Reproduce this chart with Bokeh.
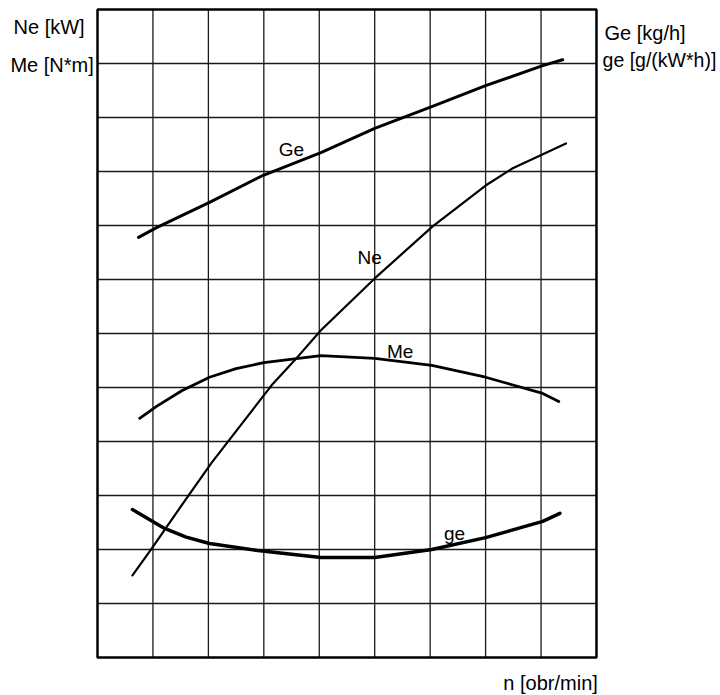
from bokeh.plotting import figure
from bokeh.models import Label, Range1d
from bokeh.embed import file_html
from bokeh.resources import INLINE

# grid positions (in grid units: 9 columns of n, 12 rows)
x_ticks = [1, 2, 3, 4, 5, 6, 7, 8]
y_ticks = [1, 2, 3, 4, 5, 6, 7, 8, 9, 10, 11]
x_border = [0, 9]
y_border = [0, 12]

# curves (x = n in grid units, y in grid units)
ge_big_n = [0.74, 1.065, 2.02, 2.99, 4.03, 5.0, 6.03, 7.0, 8.03, 8.39]
ge_big_v = [7.78, 7.96, 8.43, 8.93, 9.35, 9.80, 10.20, 10.59, 10.96, 11.07]

ne_n = [0.63, 0.98, 1.64, 2.06, 3.14, 3.63, 4.03, 5.0, 6.04, 7.0, 7.49, 8.45]
ne_v = [1.52, 2.02, 3.0, 3.61, 5.04, 5.59, 6.06, 7.02, 7.98, 8.74, 9.06, 9.52]

me_n = [0.76, 1.065, 1.52, 2.02, 2.5, 3.0, 4.03, 5.0, 6.03, 7.0, 8.03, 8.32]
me_v = [4.43, 4.65, 4.94, 5.19, 5.35, 5.46, 5.59, 5.54, 5.41, 5.19, 4.89, 4.74]

ge_small_n = [0.63, 1.21, 1.6, 2.02, 2.89, 4.03, 5.0, 6.03, 7.0, 8.03, 8.34]
ge_small_v = [2.74, 2.39, 2.23, 2.11, 1.98, 1.85, 1.85, 2.0, 2.22, 2.52, 2.67]

p = figure(width=720, height=695, output_backend="svg", toolbar_location=None,
           x_range=Range1d(-1.7496, 11.237), y_range=Range1d(-0.7037, 12.1667),
           x_axis_location=None, y_axis_location=None,
           min_border=0, background_fill_color="white", border_fill_color="white")
p.grid.visible = False
p.outline_line_color = None

nx, ny = len(x_ticks), len(y_ticks)
# inner grid lines
p.segment(x0=x_ticks, y0=[y_border[0]] * nx, x1=x_ticks, y1=[y_border[1]] * nx,
          line_color="#1a1a1a", line_width=1.3)
p.segment(x0=[x_border[0]] * ny, y0=y_ticks, x1=[x_border[1]] * ny, y1=y_ticks,
          line_color="#1a1a1a", line_width=1.3)
# frame
p.quad(left=[x_border[0]], right=[x_border[1]], bottom=[y_border[0]], top=[y_border[1]],
       fill_color=None, line_color="black", line_width=2.5)

p.line(ge_big_n, ge_big_v, line_color="black", line_width=3, line_join="round", line_cap="round")
p.line(ne_n, ne_v, line_color="black", line_width=2.2, line_join="round", line_cap="round")
p.line(me_n, me_v, line_color="black", line_width=2.8, line_join="round", line_cap="round")
p.line(ge_small_n, ge_small_v, line_color="black", line_width=3.5, line_join="round", line_cap="round")

font = "Liberation Sans"

def lab(x, y, t, size="19px", align="left"):
    p.add_layout(Label(x=x, y=y, text=t, text_font=font, text_font_size=size,
                       text_color="black", text_align=align, text_baseline="alphabetic"))

# curve labels
lab(3.27, 9.41, "Ge")
lab(4.69, 7.41, "Ne")
lab(5.22, 5.66, "Me")
lab(6.25, 2.30, "ge")

# axis labels
lab(-1.515, 11.67, "Ne [kW]", "20px")
lab(-1.57, 10.98, "Me [N*m]", "20px")
lab(9.145, 11.57, "Ge [kg/h]", "20px")
lab(9.11, 11.06, "ge [g/(kW*h)]", "19.5px")
lab(7.32, -0.48, "n [obr/min]", "20px")

open("out.html", "w").write(file_html(p, INLINE))
